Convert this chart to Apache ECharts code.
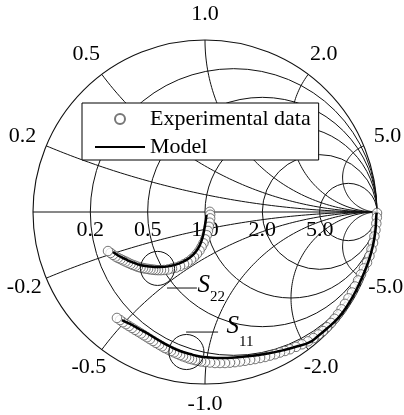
<!DOCTYPE html>
<html>
<head>
<meta charset="utf-8">
<script src="https://cdn.jsdelivr.net/npm/echarts@6/dist/echarts.min.js"></script>
<style>
  html, body { margin: 0; padding: 0; background: #fff; }
  #chart { width: 404px; height: 415px; }
</style>
</head>
<body>
<div id="chart"></div>
<script>
  // Smith chart grid values
  const resistances = [0.2, 0.5, 1.0, 2.0, 5.0];
  const reactances = [0.2, 0.5, 1.0, 2.0, 5.0, -0.2, -0.5, -1.0, -2.0, -5.0];

  // reflection coefficient, [re, im]
  const s22Exp = [
    [-0.564, -0.227], [-0.549, -0.238], [-0.535, -0.249], [-0.520, -0.259], [-0.506, -0.267],
    [-0.491, -0.274], [-0.477, -0.281], [-0.462, -0.288], [-0.448, -0.295], [-0.433, -0.302],
    [-0.419, -0.308], [-0.404, -0.313], [-0.390, -0.319], [-0.375, -0.323], [-0.360, -0.326],
    [-0.346, -0.329], [-0.331, -0.331], [-0.317, -0.334], [-0.302, -0.335], [-0.288, -0.337],
    [-0.273, -0.338], [-0.256, -0.338], [-0.238, -0.337], [-0.215, -0.334], [-0.192, -0.328],
    [-0.169, -0.323], [-0.145, -0.314], [-0.122, -0.303], [-0.102, -0.292], [-0.081, -0.277],
    [-0.064, -0.262], [-0.047, -0.243], [-0.032, -0.224], [-0.020, -0.203], [-0.009, -0.182],
    [0.001, -0.159], [0.010, -0.135], [0.017, -0.110], [0.023, -0.086], [0.027, -0.062],
    [0.030, -0.037], [0.030, -0.016], [0.028, 0.001]
  ];
  const s22Model = [
    [-0.535, -0.233], [-0.500, -0.256], [-0.465, -0.273], [-0.424, -0.291], [-0.378, -0.308],
    [-0.320, -0.317], [-0.262, -0.320], [-0.203, -0.314], [-0.145, -0.297], [-0.099, -0.273],
    [-0.064, -0.244], [-0.035, -0.203], [-0.017, -0.157], [-0.006, -0.110], [0.003, -0.058],
    [0.009, -0.017]
  ];
  const s11Exp = [
    [-0.512, -0.616], [-0.494, -0.628], [-0.477, -0.641], [-0.459, -0.652], [-0.442, -0.663],
    [-0.424, -0.674], [-0.407, -0.685], [-0.390, -0.695], [-0.372, -0.706], [-0.355, -0.717],
    [-0.337, -0.728], [-0.320, -0.739], [-0.302, -0.750], [-0.285, -0.761], [-0.267, -0.771],
    [-0.250, -0.781], [-0.233, -0.791], [-0.215, -0.799], [-0.198, -0.808], [-0.180, -0.816],
    [-0.163, -0.824], [-0.145, -0.832], [-0.128, -0.839], [-0.110, -0.845], [-0.093, -0.852],
    [-0.076, -0.856], [-0.058, -0.861], [-0.041, -0.865], [-0.023, -0.869],
    [0.000, -0.872], [0.029, -0.875], [0.058, -0.878], [0.087, -0.878], [0.116, -0.878],
    [0.145, -0.876], [0.174, -0.873], [0.203, -0.869], [0.233, -0.865], [0.262, -0.860],
    [0.291, -0.855], [0.320, -0.849], [0.349, -0.843], [0.378, -0.835], [0.407, -0.827],
    [0.436, -0.817], [0.465, -0.808], [0.494, -0.798],
    [0.529, -0.784], [0.564, -0.769], [0.599, -0.752], [0.631, -0.733], [0.660, -0.712],
    [0.686, -0.692], [0.709, -0.670], [0.733, -0.645], [0.753, -0.621], [0.773, -0.595],
    [0.794, -0.566], [0.814, -0.534], [0.834, -0.502], [0.855, -0.468], [0.872, -0.433],
    [0.890, -0.398], [0.907, -0.363], [0.924, -0.328], [0.942, -0.294], [0.956, -0.256],
    [0.968, -0.218], [0.977, -0.180], [0.985, -0.142], [0.991, -0.105], [0.996, -0.067],
    [0.999, -0.032], [1.000, -0.006]
  ];
  const s11Model = [
    [-0.483, -0.628], [-0.436, -0.651], [-0.378, -0.683], [-0.320, -0.715], [-0.262, -0.750],
    [-0.203, -0.782], [-0.145, -0.808], [-0.087, -0.826], [-0.029, -0.840], [0.029, -0.846],
    [0.087, -0.849], [0.174, -0.846], [0.262, -0.837], [0.349, -0.826], [0.436, -0.808],
    [0.523, -0.785], [0.610, -0.756], [0.657, -0.721], [0.706, -0.680], [0.775, -0.616],
    [0.830, -0.541], [0.877, -0.459], [0.917, -0.372], [0.953, -0.279], [0.977, -0.192],
    [0.991, -0.105], [0.996, -0.023], [0.998, -0.005]
  ];

  // callouts: circled region, leader line, label anchor (all in reflection units)
  const calloutNames = ['22', '11'];
  const calloutCircles = [[-0.276, -0.328, 0.099], [-0.108, -0.814, 0.102]];
  const calloutLeads = [[[-0.221, -0.442], [-0.047, -0.442]], [[-0.110, -0.698], [0.076, -0.698]]];
  const calloutLetter = [[-0.044, -0.424], [0.125, -0.663]];
  const calloutSub = [[0.029, -0.494], [0.198, -0.756]];

  const FONT = '"Liberation Serif", "Times New Roman", serif';
  const INK = '#111';

  function txt(x, y, text, size, align, italic) {
    return {
      type: 'text', x: x, y: y,
      style: {
        text: text, fill: '#000',
        fontSize: size, fontFamily: FONT, fontStyle: italic ? 'italic' : 'normal',
        align: align, textAlign: align,
        verticalAlign: 'middle', textVerticalAlign: 'middle'
      }
    };
  }

  function renderFrame(params, api) {
    const c = api.coord([0, 0]);
    const R = api.size([1, 0])[0];
    const l = api.coord([-1, 0]), r = api.coord([1, 0]);
    return {
      type: 'group',
      children: [
        { type: 'circle', shape: { cx: c[0], cy: c[1], r: R }, style: { fill: null, stroke: INK, lineWidth: 1.1 } },
        { type: 'line', shape: { x1: l[0], y1: l[1], x2: r[0], y2: r[1] }, style: { stroke: INK, lineWidth: 1 } }
      ]
    };
  }

  function renderResistance(params, api) {
    const rv = api.value(0);
    const c = api.coord([rv / (1 + rv), 0]);
    const R = api.size([1 / (1 + rv), 0])[0];
    const lp = api.coord([(rv - 1) / (rv + 1), 0]);
    return {
      type: 'group',
      children: [
        { type: 'circle', shape: { cx: c[0], cy: c[1], r: R }, style: { fill: null, stroke: INK, lineWidth: 1 } },
        txt(lp[0], lp[1] + 18, rv.toFixed(1), 22, 'center')
      ]
    };
  }

  function renderReactance(params, api) {
    const xv = api.value(0);
    const ax = Math.abs(xv), sgn = xv > 0 ? 1 : -1;
    const rad = 1 / ax;
    const bx = (ax * ax - 1) / (ax * ax + 1), by = 2 * ax / (ax * ax + 1);
    let end = Math.atan2(by - rad, bx - 1);
    if (end > 0) end -= 2 * Math.PI;
    const pts = [];
    const n = 90;
    for (let i = 0; i <= n; i++) {
      const t = -Math.PI / 2 + (end + Math.PI / 2) * i / n;
      pts.push(api.coord([1 + rad * Math.cos(t), sgn * (rad + rad * Math.sin(t))]));
    }
    const k = sgn < 0 ? 1.15 - 0.03 * by : 1.15;
    const lp = api.coord([bx * k, sgn * by * k]);
    return {
      type: 'group',
      children: [
        { type: 'polyline', shape: { points: pts }, style: { fill: null, stroke: INK, lineWidth: 1 } },
        txt(lp[0], lp[1], xv.toFixed(1), 22, 'center')
      ]
    };
  }

  function renderCallout(params, api) {
    const i = params.dataIndex;
    const cc = calloutCircles[i];
    const c = api.coord([cc[0], cc[1]]);
    const R = api.size([cc[2], 0])[0];
    const a = api.coord(calloutLeads[i][0]), b = api.coord(calloutLeads[i][1]);
    const s = api.coord(calloutLetter[i]), sub = api.coord(calloutSub[i]);
    return {
      type: 'group',
      children: [
        { type: 'circle', shape: { cx: c[0], cy: c[1], r: R }, style: { fill: null, stroke: INK, lineWidth: 1 } },
        { type: 'line', shape: { x1: a[0], y1: a[1], x2: b[0], y2: b[1] }, style: { stroke: INK, lineWidth: 1 } },
        txt(s[0], s[1], 'S', 25, 'left', true),
        txt(sub[0], sub[1], calloutNames[i], 15, 'left')
      ]
    };
  }

  const expStyle = { color: '#fff', borderColor: '#555', borderWidth: 1 };

  const chart = echarts.init(document.getElementById('chart'));
  chart.setOption({
    animation: false,
    backgroundColor: '#fff',
    grid: { left: 33, top: 40, width: 344, height: 344 },
    xAxis: { type: 'value', min: -1, max: 1, show: false },
    yAxis: { type: 'value', min: -1, max: 1, show: false },
    legend: {
      left: 82, top: 103,
      orient: 'vertical',
      align: 'left',
      padding: [5, 8, 2, 12],
      itemWidth: 50, itemHeight: 10, itemGap: 6,
      backgroundColor: '#fff',
      borderColor: '#000', borderWidth: 1, borderRadius: 0,
      z: 10,
      textStyle: { fontFamily: FONT, fontSize: 22, color: '#000' },
      data: [
        { name: 'Experimental data' },
        { name: 'Model', itemStyle: { opacity: 0 } }
      ]
    },
    series: [
      { type: 'custom', coordinateSystem: 'cartesian2d', z: 1, silent: true,
        data: [[0, 0]], renderItem: renderFrame },
      { type: 'custom', coordinateSystem: 'cartesian2d', z: 1, silent: true,
        data: resistances.map(v => [v, 0]), renderItem: renderResistance },
      { type: 'custom', coordinateSystem: 'cartesian2d', z: 1, silent: true,
        data: reactances.map(v => [v, 0]), renderItem: renderReactance },
      { name: 'Experimental data', type: 'scatter', z: 2, clip: false,
        symbol: 'circle', symbolSize: 9.5, itemStyle: expStyle,
        data: s22Exp.slice().reverse() },
      { name: 'Experimental data', type: 'scatter', z: 2, clip: false,
        symbol: 'circle', symbolSize: 9.5, itemStyle: expStyle,
        data: s11Exp.slice().reverse() },
      { name: 'Model', type: 'line', z: 3, clip: false, smooth: true,
        symbol: 'none', showSymbol: false,
        lineStyle: { color: '#000', width: 2.5 }, itemStyle: { color: 'rgba(0,0,0,0)' },
        data: s22Model },
      { name: 'Model', type: 'line', z: 3, clip: false, smooth: true,
        symbol: 'none', showSymbol: false,
        lineStyle: { color: '#000', width: 2.5 }, itemStyle: { color: 'rgba(0,0,0,0)' },
        data: s11Model },
      { type: 'custom', coordinateSystem: 'cartesian2d', z: 4, silent: true,
        data: calloutNames.map((n, i) => [calloutCircles[i][0], calloutCircles[i][1]]),
        renderItem: renderCallout }
    ]
  });
</script>
</body>
</html>
